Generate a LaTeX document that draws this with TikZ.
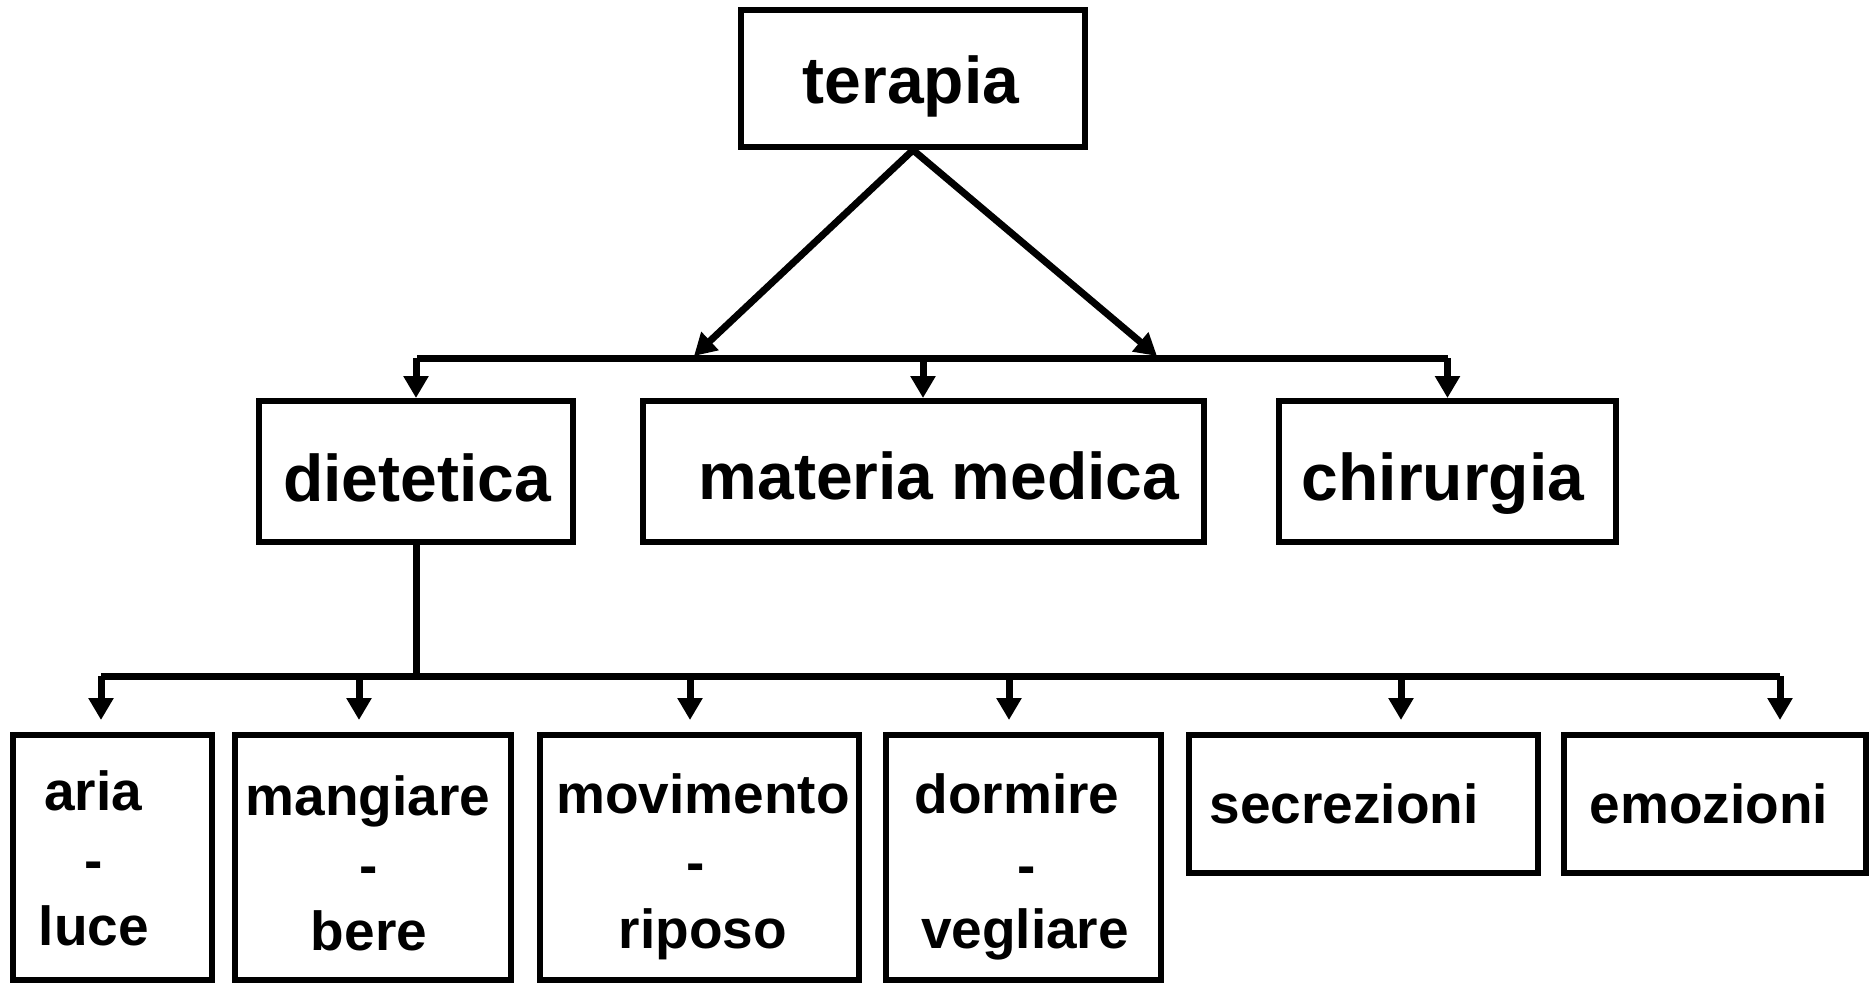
\documentclass[tikz,border=0pt]{standalone}
\usepackage{fontspec}
\setmainfont{Liberation Sans}
\usetikzlibrary{arrows.meta}
\begin{document}
\begin{tikzpicture}[x=0.5pt,y=-0.5pt,
  box/.style={draw,line width=3pt,inner sep=0pt},
  big/.style={font=\fontsize{33pt}{40pt}\selectfont\bfseries,inner sep=0pt,anchor=base},
  small/.style={font=\fontsize{27.5pt}{33pt}\selectfont\bfseries,inner sep=0pt,anchor=base},
  arr/.style={line width=3.5pt,-{Triangle[width=12pt,length=11pt]}},
  bar/.style={line width=3.5pt}]
\useasboundingbox (0,0) rectangle (1870,982);

% top level
\node[box,minimum width=172pt,minimum height=68.5pt] (terapia) at (913,78.5) {};
\node[big] (terapiaT) at (911,103) {terapia};

% second level
\node[box,minimum width=157pt,minimum height=70.5pt] (diet) at (416,471.5) {};
\node[big] (dietT) at (417,501) {dietetica};
\node[box,minimum width=280.5pt,minimum height=70.5pt] (mat) at (923,471.5) {};
\node[big] (matT) at (939,499) {materia medica};
\node[box,minimum width=168.5pt,minimum height=70.5pt] (chir) at (1447.5,471.5) {};
\node[big] (chirT) at (1443,500) {chirurgia};

% third level
\node[box,minimum width=99.5pt,minimum height=122.5pt] (aria) at (112.5,857.5) {};
\node[small] (ariaA) at (93,810) {aria};
\node[small] (ariaB) at (94,879) {-};
\node[small] (ariaC) at (94,945) {luce};

\node[box,minimum width=138pt,minimum height=122.5pt] (mang) at (373,857.5) {};
\node[small] (mangA) at (368,815) {mangiare};
\node[small] (mangB) at (369,884) {-};
\node[small] (mangC) at (369,950) {bere};

\node[box,minimum width=159.5pt,minimum height=122.5pt] (movi) at (699.5,857.5) {};
\node[small] (moviA) at (703,813) {movimento};
\node[small] (moviB) at (696,881) {-};
\node[small] (moviC) at (703,948) {riposo};

\node[box,minimum width=137.5pt,minimum height=122.5pt] (dorm) at (1023.5,857.5) {};
\node[small] (dormA) at (1017,813) {dormire};
\node[small] (dormB) at (1027,884) {-};
\node[small] (dormC) at (1025,948) {vegliare};

\node[box,minimum width=174.5pt,minimum height=69pt] (secr) at (1363.5,804) {};
\node[small] (secrT) at (1344,823) {secrezioni};
\node[box,minimum width=151pt,minimum height=69pt] (emoz) at (1715,804) {};
\node[small] (emozT) at (1709,823) {emozioni};

% connectors top
\coordinate (ta) at (694,356);
\coordinate (tb) at (1157,356);
\draw[arr] (terapia.south) -- (ta);
\draw[arr] (terapia.south) -- (tb);
\coordinate (b1) at (417,358);
\coordinate (b2) at (1447.5,358);
\draw[bar] (b1) -- (b2);
\draw[arr] (diet.north |- b1) -- (diet.north);
\draw[arr] (mat.north |- b1) -- (mat.north);
\draw[arr] (chir.north |- b1) -- (chir.north);

% connectors bottom
\coordinate (c) at (416,676);
\draw[bar] (diet.south) -- (c);
\coordinate (t1) at (101,720);
\coordinate (t2) at (359,720);
\coordinate (t3) at (690,720);
\coordinate (t4) at (1009,720);
\coordinate (t5) at (1401,720);
\coordinate (t6) at (1780,720);
\draw[bar] (t1 |- c) -- (t6 |- c);
\foreach \t in {t1,t2,t3,t4,t5,t6}
  \draw[arr] (\t |- c) -- (\t);
\end{tikzpicture}
\end{document}
